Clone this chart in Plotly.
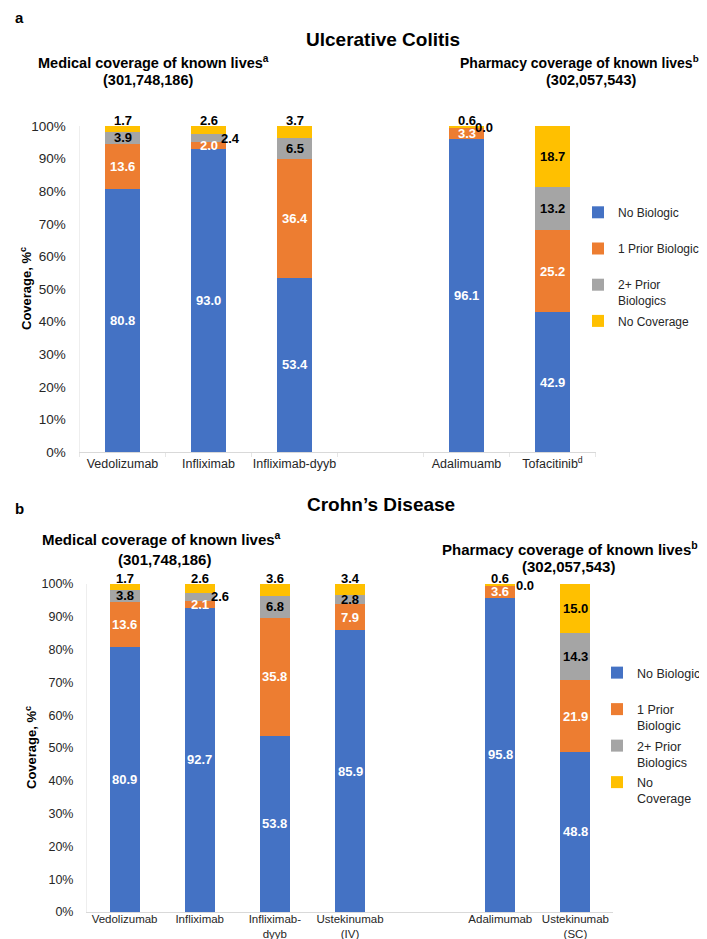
import plotly.graph_objects as go

# ---- data ----
SERIES = ["No Biologic", "1 Prior Biologic", "2+ Prior Biologics", "No Coverage"]
COLORS = ["#4472C4", "#ED7D31", "#A5A5A5", "#FFC000"]

# panel a: Ulcerative Colitis
UC_DRUGS = ["Vedolizumab", "Infliximab", "Infliximab-dyyb", "gap", "Adalimuamb", "Tofacitinib"]
UC_TICKS = ["Vedolizumab", "Infliximab", "Infliximab-dyyb", "", "Adalimuamb", "Tofacitinib<sup>d</sup>"]
UC_NO_BIO = [80.8, 93.0, 53.4, None, 96.1, 42.9]
UC_ONE = [13.6, 2.0, 36.4, None, 3.3, 25.2]
UC_TWO = [3.9, 2.4, 6.5, None, 0.0, 13.2]
UC_NOCOV = [1.7, 2.6, 3.7, None, 0.6, 18.7]

# panel b: Crohn's Disease
CD_DRUGS = ["Vedolizumab", "Infliximab", "Infliximab-dyyb", "Ustekinumab (IV)", "gap",
            "Adalimumab", "Ustekinumab (SC)"]
CD_TICKS = ["Vedolizumab", "Infliximab", "Infliximab-<br>dyyb", "Ustekinumab<br>(IV)", "",
            "Adalimumab", "Ustekinumab<br>(SC)"]
CD_NO_BIO = [80.9, 92.7, 53.8, 85.9, None, 95.8, 48.8]
CD_ONE = [13.6, 2.1, 35.8, 7.9, None, 3.6, 21.9]
CD_TWO = [3.8, 2.6, 6.8, 2.8, None, 0.0, 14.3]
CD_NOCOV = [1.7, 2.6, 3.6, 3.4, None, 0.6, 15.0]

# legend names (trailing blank line just keeps the Excel-like spacing)
UC_LEGEND = ["No Biologic<br> ", "1 Prior Biologic<br> ", "2+ Prior<br>Biologics", "No Coverage"]
CD_LEGEND = ["No Biologic<br> ", "1 Prior<br>Biologic", "2+ Prior<br>Biologics", "No<br>Coverage"]

FONT = "Liberation Sans, Arial"
TXT = "#262626"

# label tweaks: (panel, drug, series index) -> xshift px
SHIFT_RIGHT = {("a", "Infliximab", 2): 22, ("a", "Adalimuamb", 2): 17,
               ("b", "Infliximab", 2): 20, ("b", "Adalimumab", 2): 25}

fig = go.Figure()


def add_panel(tag, drugs, values, legend_names, xa, ya, legend_id):
    for i, vals in enumerate(values):
        xs = [d for d, v in zip(drugs, vals) if v is not None]
        ys = [v for v in vals if v is not None]
        fig.add_trace(go.Bar(
            x=xs, y=ys, name=legend_names[i], marker_color=COLORS[i],
            marker_line_width=0, width=0.4, xaxis=xa, yaxis=ya,
            legend=legend_id, legendgroup=tag + str(i), hoverinfo="skip",
        ))
    # data labels
    for j, d in enumerate(drugs):
        if values[0][j] is None:
            continue
        base = 0
        for i in range(4):
            v = values[i][j]
            col = "white" if i < 2 else "black"
            xshift = SHIFT_RIGHT.get((tag, d, i), 0)
            if i == 3 and v < 5:
                y, anchor, yshift = 100, "bottom", -4
            else:
                y, anchor, yshift = base + v / 2, "middle", 0
            fig.add_annotation(
                x=d, y=y, xref=xa, yref=ya, text="<b>%.1f</b>" % v, showarrow=False,
                yanchor=anchor, yshift=yshift, xshift=xshift,
                font=dict(family=FONT, size=13, color=col),
            )
            base += v


add_panel("a", UC_DRUGS, [UC_NO_BIO, UC_ONE, UC_TWO, UC_NOCOV], UC_LEGEND, "x", "y", "legend")
add_panel("b", CD_DRUGS, [CD_NO_BIO, CD_ONE, CD_TWO, CD_NOCOV], CD_LEGEND, "x2", "y2", "legend2")

W, H = 707, 939


def px_x(p):
    return p / W


def px_y(p):
    return 1 - p / H


yax = dict(range=[0, 100], tickvals=list(range(0, 101, 10)),
           ticktext=["%d%%" % t for t in range(0, 101, 10)],
           showgrid=False, zeroline=False, showline=True, linecolor="#eeeeee",
           ticks="", ticklabelstandoff=10, fixedrange=True)
xax = dict(type="category", categoryorder="array", showline=True, linecolor="#d9d9d9",
           tickson="boundaries", tickcolor="#e6e6e6", tickangle=0, fixedrange=True)

fig.update_layout(
    width=W, height=H, barmode="stack", plot_bgcolor="white", paper_bgcolor="white",
    margin=dict(l=0, r=0, t=0, b=0, autoexpand=False),
    font=dict(family=FONT, color=TXT),
    xaxis=dict(domain=[px_x(71.5), px_x(587.5)], anchor="y", categoryarray=UC_DRUGS,
               range=[-0.5, 5.5], tickvals=UC_DRUGS, ticktext=UC_TICKS,
               ticks="outside", ticklen=4,
               tickfont=dict(size=12.5, color=TXT), **xax),
    yaxis=dict(domain=[px_y(444), px_y(118)], anchor="x",
               tickfont=dict(size=13.5, color=TXT), **yax),
    xaxis2=dict(domain=[px_x(79), px_x(605)], anchor="y2", categoryarray=CD_DRUGS,
                range=[-0.5, 6.5], tickvals=CD_DRUGS, ticktext=CD_TICKS, ticks="",
                ticklabelstandoff=-4, tickfont=dict(size=11.5, color=TXT), **xax),
    yaxis2=dict(domain=[px_y(904), px_y(576)], anchor="x2",
                tickfont=dict(size=12.5, color=TXT), **yax),
    legend=dict(x=px_x(570), y=px_y(190), xanchor="left", yanchor="top",
                traceorder="grouped", tracegroupgap=2, valign="top",
                bgcolor="rgba(0,0,0,0)", itemclick=False,
                font=dict(family=FONT, size=12, color=TXT)),
    legend2=dict(x=px_x(589), y=px_y(650), xanchor="left", yanchor="top",
                 traceorder="grouped", tracegroupgap=1, valign="top",
                 bgcolor="rgba(0,0,0,0)", itemclick=False,
                 font=dict(family=FONT, size=12.5, color=TXT)),
)

# titles and panel letters
texts = [
    ("<b>a</b>", 5, 10, 15, "left"),
    ("<b>Ulcerative Colitis</b>", 375, 31, 19, "center"),
    ("<b>Medical coverage of known lives<sup>a</sup></b>", 145, 54, 14.5, "center"),
    ("<b>(301,748,186)</b>", 140, 72, 14.5, "center"),
    ("<b>Pharmacy coverage of known lives<sup>b</sup></b>", 571, 54, 14, "center"),
    ("<b>(302,057,543)</b>", 583, 72, 14.5, "center"),
    ("<b>b</b>", 5, 500, 15, "left"),
    ("<b>Crohn\u2019s Disease</b>", 373, 497, 19, "center"),
    ("<b>Medical coverage of known lives<sup>a</sup></b>", 153, 530, 15, "center"),
    ("<b>(301,748,186)</b>", 156, 551, 15, "center"),
    ("<b>Pharmacy coverage of known lives<sup>b</sup></b>", 562, 540, 15, "center"),
    ("<b>(302,057,543)</b>", 560, 558, 15, "center"),
]
for t, x, y, s, anc in texts:
    fig.add_annotation(x=px_x(x), y=px_y(y), xref="paper", yref="paper", text=t,
                       showarrow=False, xanchor=anc, yanchor="middle",
                       font=dict(family=FONT, size=s, color="black"))

# y axis titles
for x, y in [(18, 281), (23, 740)]:
    fig.add_annotation(x=px_x(x), y=px_y(y), xref="paper", yref="paper",
                       text="<b>Coverage, %<sup>c</sup></b>", textangle=-90, showarrow=False,
                       xanchor="center", yanchor="middle",
                       font=dict(family=FONT, size=13, color="black"))

fig.write_html("out.html")
